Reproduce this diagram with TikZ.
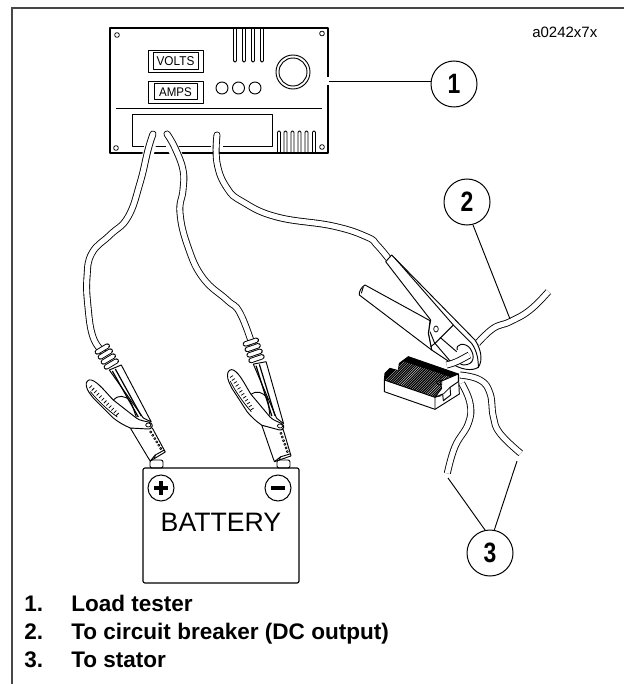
\documentclass[tikz,border=0pt]{standalone}
\usepackage{fontspec}
\setmainfont{Liberation Sans}
\tikzset{
  px/.style={x=0.75pt,y=-0.75pt},
  zm/.style={x=0.25pt,y=-0.25pt},
  ln/.style={draw=black,line width=0.7pt,line join=round},
  thin ln/.style={draw=black,line width=0.55pt,line join=round},
  wb/.style={fill=white,ln},
  frame/.style={draw=black!72,line width=1.3pt},
  halo/.style={draw=white,line width=8.5pt},
  cabout/.style={draw=black,line width=5.2pt},
  cabin/.style={draw=white,line width=3.9pt},
  callout/.style={circle,draw=black,line width=0.75pt,minimum size=34.5pt,inner sep=0pt,font=\bfseries\fontsize{21}{21}\selectfont},
  legend/.style={anchor=base west,inner sep=0pt,font=\bfseries\fontsize{16.9}{16.9}\selectfont},
  leader/.style={draw=black,line width=0.7pt},
}
\newcommand{\cabz}[2][]{\draw[cabout,#1] plot[smooth,tension=.75] coordinates {#2};\draw[cabin,#1] plot[smooth,tension=.75] coordinates {#2};}
\newcommand{\smallclamp}{%
  % upper body
  \path[wb] (-39,-55) -- (-5,-7) -- (3,-3) -- (-27,-60) -- cycle;
  \draw[thin ln,line width=.9pt] (-36,-54) -- (-10,-8);
  \draw[thin ln,line width=.9pt] (-33,-56) -- (-7,-9);
  \draw[ln] (-35,-25) .. controls (-31,-30) and (-23,-30) .. (-18,-24) .. controls (-15,-18) and (-14,-13) .. (-12,-8);
  % spring
  \foreach \a/\b in {-46/-76,-43/-71,-40/-66,-37/-61}{
    \draw[draw=black,line width=4pt,line cap=round] (\a-5,\b+3) -- (\a+5,\b-3);
    \draw[draw=white,line width=2.6pt,line cap=round] (\a-5,\b+3) -- (\a+5,\b-3);
  }
  % jaw
  \path[wb] (-18,3) -- (0,33) -- (2,36) -- (17,27) -- (4,3) -- cycle;
  \draw[ln] (2,36) -- (7,30) -- (16,25);
  \draw[ln] (7,30) -- (6,34);
  \foreach \t in {0,1,...,5}{\draw[thin ln,fill=white,line width=.5pt] ({2.5+\t*2},{7+\t*3.3}) circle (1.1);}
  % lower handle
  \path[wb] (-62,-39) .. controls (-63,-43) and (-60,-46) .. (-57,-45)
    .. controls (-50,-43) and (-42,-32) .. (-35,-25) -- (-12,-7) .. controls (-8,-4) and (-3,-4) .. (0,-3)
    .. controls (3,-2) and (5,0) .. (4,1) .. controls (3,4) and (1,4) .. (0,4) -- (-18,3)
    .. controls (-25,0) and (-30,-3) .. (-35,-7) -- (-55,-27) .. controls (-58,-31) and (-61,-34) .. (-62,-39) -- cycle;
  \draw[thin ln,fill=white] (0,0) ellipse (2.6 and 2);
  \foreach \t in {0,1,...,11}{
    \draw[thin ln,line width=.55pt] ({-59+\t*2.45},{-37+\t*2.5}) -- ({-56.5+\t*2.45},{-39.5+\t*2.5});
  }
  \draw[thin ln,line width=.55pt] (-58,-33.5) .. controls (-52,-26) and (-42,-16) .. (-31,-8);
}
\begin{document}
\begin{tikzpicture}[px]
\useasboundingbox (0,0) rectangle (624,684);
\path[fill=white] (0,0) rectangle (624,684);
% frame
\coordinate (fa) at (12,684);\coordinate (fb) at (12,8);\coordinate (fc) at (624,8);
\draw[frame] (fa) -- (fb) -- (fc);

% panel
\draw[ln,line width=.9pt] (328,77) -- (328,28) -- (110,28) -- (110,153) -- (328,153) -- (328,85);
\foreach \x/\y in {117/35,322/33.5,116/148,322/147}{\draw[thin ln] (\x,\y) circle (2.4);}
\draw[ln] (148,50) rectangle (203,72);
\draw[ln] (153,52) rectangle (198,69);
\draw[ln] (148,81) rectangle (203,103);
\draw[ln] (154,83) rectangle (197,99);
\node[inner sep=0pt,font=\fontsize{9.6}{9.6}\selectfont] (volts) at (175.5,61) {\scalebox{.92}[1]{VOLTS}};
\node[inner sep=0pt,font=\fontsize{9.4}{9.4}\selectfont] (amps) at (175.5,92) {\scalebox{.92}[1]{AMPS}};
\foreach \x in {233.5,242.5,251.5,260.5}{
  \draw[ln,rounded corners=1pt] (\x,28) -- (\x,62) -- (\x+3,62) -- (\x+3,28);
}
\foreach \x in {222,238.5,255}{\draw[ln] (\x,88) circle (6);}
\draw[ln] (293,72) circle (17);
\draw[ln] (293,72) circle (14);
\draw[ln] (116,108) -- (322,108);
\draw[ln] (132,114) rectangle (272,146);
\foreach \x in {277.5,284,291,298,305,312.5}{
  \draw[ln,rounded corners=1pt] (\x,153) -- (\x,131) -- (\x+3,131) -- (\x+3,153);
}

% battery
\path[wb,rounded corners=1.5pt] (150,468) -- (150,460) -- (163,460) -- (163,468) -- cycle;
\path[wb,rounded corners=1.5pt] (277,468) -- (277,460) -- (290,460) -- (290,468) -- cycle;
\draw[ln,rounded corners=1.5pt,line width=.85pt] (143,468) rectangle (299,583);
\node[circle,draw=black,line width=.75pt,minimum size=19.5pt,inner sep=0pt] (plus) at (161,488) {};
\node[circle,draw=black,line width=.75pt,minimum size=19.5pt,inner sep=0pt] (minus) at (278,488) {};
\draw[draw=black,line width=2.4pt] (154,488) -- (168,488) (161,481) -- (161,495);
\draw[draw=black,line width=2.4pt] (271,488) -- (285,488);
\node[inner sep=0pt,font=\fontsize{20}{20}\selectfont] (batt) at (221,522) {BATTERY};

% cables from tester
\draw[halo] plot[smooth,tension=.6] coordinates {(153,134) (149,150) (146,165)};
\draw[halo] plot[smooth,tension=.6] coordinates {(167,134) (173,148) (182,165)};
\draw[halo] plot[smooth,tension=.6] coordinates {(217,135) (217,150)};
\cabz[line cap=round]{(153,134) (148,150) (140,183) (128,217) (110,235) (92,253) (87,277) (88,307) (93,337) (103,352)}
\cabz[line cap=round]{(167,134) (175,148) (183,170) (183,190) (180,213) (188,247) (203,278) (227,300) (240,313) (253,347)}
\cabz[line cap=round]{(217,135) (217,163) (227,188) (243,202) (277,217) (333,226) (367,237) (377,245) (388,258)}

% small clamps
\begin{scope}[shift={(148.3,425)}]
  \smallclamp
\end{scope}
\begin{scope}[shift={(280,426)},rotate=-12]
  \smallclamp
\end{scope}

% big clamp, written in zoomed coordinates
\begin{scope}[shift={(340,250)},zm]
  % wire to breaker
  \cabz[line cap=butt]{(412,280) (460,235) (510,215) (570,180) (625,125)}
  % upper handle and ring
  \path[wb] (137,35) -- (155,15) -- (405,270) .. controls (422,295) and (430,330) .. (415,352)
     .. controls (395,365) and (360,358) .. (335,340) -- (275,300) -- (265,250) -- (272,210) -- cycle;
  \draw[ln] (165,25) -- (340,225) -- (395,280) .. controls (412,305) and (415,330) .. (415,352);
  % lower handle
  \path[wb] (75,105) -- (270,212) -- (265,250) -- (275,300) -- (58,135) .. controls (56,125) and (65,110) .. (75,105) -- cycle;
  \draw[ln] (70,110) -- (64,130);
  % hinge
  \draw[ln] (272,290) -- (285,280) -- (340,225);
  \draw[ln] (285,280) -- (332,335);
  \draw[ln] (300,262) -- (350,305);
  \draw[thin ln] (288,237) ellipse (7 and 9);
  \draw[ln] (270,245) -- (285,282);
  % through wire
  \draw[ln,fill=white] (352,300) .. controls (345,282) and (375,275) .. (390,295) .. controls (405,315) and (405,345) .. (370,345) .. controls (360,343) and (352,335) .. (350,328);
  \cabz[line cap=butt]{(320,345) (350,335) (388,315)}
  % regulator
  \path[wb] (133,390) -- (133,425) -- (285,478) -- (358,432) -- (355,372) -- (205,320) -- (178,340) -- (175,362) -- (150,355) -- (135,370) -- cycle;
  \begin{scope}
    \clip (133,390) -- (285,442) -- (300,440) -- (352,395) -- (355,372) -- (205,320) -- (178,340) -- (175,362) -- (150,355) -- (135,370) -- cycle;
    \fill[black] (100,300) rectangle (380,460);
    \foreach \t in {0,1,...,30}{
      \draw[draw=white,line width=.16pt] ({133+\t*5.6},{395+\t*1.85}) -- ({193+\t*5.6},{335+\t*1.85});
    }
  \end{scope}
  \draw[ln] (133,390) -- (285,442) -- (285,478);
  \path[wb] (300,395) -- (355,372) -- (355,395) -- (330,412) -- (332,435) -- (310,452) -- (308,432) -- (285,442) -- (305,415) -- cycle;
  \draw[thin ln] (300,385) -- (332,365);
  \draw[thin ln] (310,432) -- (330,412);
  \draw[thin ln] (290,395) -- (305,390) -- (305,405) -- (292,402) -- cycle;
  % stator wires
  \cabz[line cap=butt]{(360,375) (420,390) (450,430) (460,500) (480,550) (542,610)}
  \cabz[line cap=butt]{(365,400) (390,460) (385,520) (345,590) (322,670)}
\end{scope}

% callouts
\node[callout] (c1) at (454,84) {\scalebox{.82}[1]{1}};
\node[callout] (c2) at (467,202) {\scalebox{.82}[1]{2}};
\node[callout] (c3) at (490,553) {\scalebox{.82}[1]{3}};
\coordinate (t1) at (329,81);
\coordinate (t2) at (510,319);
\coordinate (t3a) at (448,478);
\coordinate (t3b) at (517,461);
\coordinate (s3a) at (485,530);
\coordinate (s3b) at (494,531);
\draw[leader] (t1) -- (c1.west |- t1);
\draw[leader] (c2) ++(6,23) -- (t2);
\draw[leader] (s3a) -- (t3a);
\draw[leader] (s3b) -- (t3b);

% texts
\node[anchor=base west,inner sep=0pt,font=\fontsize{11.25}{11.25}\selectfont] (id) at (532,38) {a0242x7x};
\node[legend] (n1) at (24,611) {1.};
\node[legend] (l1) at (71,611) {Load tester};
\node[legend] (n2) at (24,639) {2.};
\node[legend] (l2) at (71,639) {To circuit breaker (DC output)};
\node[legend] (n3) at (24,667) {3.};
\node[legend] (l3) at (71,667) {To stator};
\end{tikzpicture}
\end{document}
